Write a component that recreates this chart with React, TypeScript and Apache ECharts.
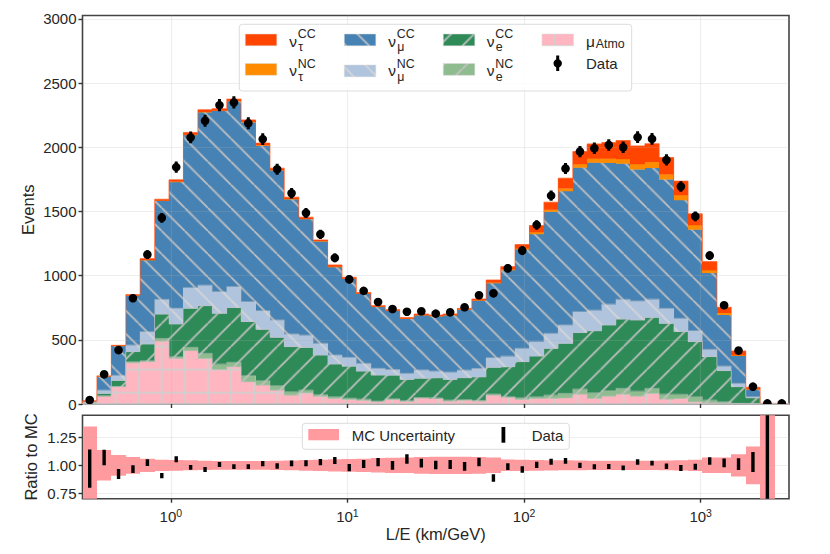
import { useEffect, useRef } from "react";
import * as echarts from "echarts";

// stack components per L/E bin
const muAtmo = [8, 62, 135, 322, 330, 491, 356, 416, 356, 270, 291, 174, 148, 109, 70, 88, 60, 44, 36, 29, 18, 36, 21, 47, 42, 23, 31, 23, 70, 52, 36, 44, 44, 49, 78, 44, 62, 78, 62, 83, 39, 44, 18, 10, 5, 1, 0, 0, 0];
const nueNC = [0, 2, 2, 8, 8, 20, 13, 26, 39, 42, 34, 47, 34, 34, 26, 21, 13, 13, 10, 10, 5, 5, 5, 3, 5, 8, 3, 5, 8, 5, 13, 13, 26, 34, 39, 44, 42, 44, 39, 39, 39, 31, 39, 21, 13, 4, 3, 0, 0];
const nueCC = [4, 19, 47, 78, 130, 190, 255, 304, 371, 395, 426, 421, 400, 377, 351, 332, 309, 255, 249, 218, 203, 184, 166, 151, 158, 161, 171, 184, 208, 234, 281, 317, 364, 390, 439, 483, 512, 540, 554, 553, 551, 489, 429, 338, 242, 130, 46, 1, 0];
const numuNC = [4, 26, 39, 52, 96, 114, 122, 161, 161, 169, 164, 156, 145, 135, 99, 96, 91, 70, 68, 60, 52, 44, 47, 65, 52, 57, 60, 65, 75, 83, 104, 112, 117, 143, 163, 161, 163, 154, 148, 143, 116, 104, 85, 57, 36, 26, 8, 0, 0];
const numuCC = [8, 109, 231, 387, 558, 770, 985, 1190, 1347, 1409, 1445, 1397, 1287, 1167, 1050, 905, 795, 686, 614, 543, 480, 458, 426, 427, 428, 444, 472, 531, 582, 670, 773, 840, 948, 1044, 1125, 1151, 1101, 1059, 1026, 1024, 1006, 922, 790, 597, 400, 216, 58, 3, 0];
const nutauNC = [0, 0, 0, 1, 2, 2, 3, 4, 4, 3, 3, 4, 4, 3, 3, 3, 2, 3, 2, 2, 2, 2, 2, 2, 2, 2, 2, 2, 5, 6, 8, 14, 18, 21, 26, 31, 34, 34, 41, 47, 39, 39, 34, 21, 16, 5, 2, 0, 0];
const nutauCC = [1, 1, 3, 4, 8, 8, 12, 14, 14, 12, 12, 14, 14, 12, 12, 10, 8, 12, 8, 6, 6, 6, 6, 6, 6, 6, 6, 8, 18, 20, 27, 50, 55, 78, 96, 112, 122, 143, 140, 138, 130, 107, 86, 65, 42, 31, 13, 1, 0];

const dataEvents = [31, 231, 420, 824, 1164, 1450, 1845, 2076, 2206, 2328, 2349, 2187, 2063, 1829, 1642, 1488, 1322, 1138, 971, 881, 795, 740, 719, 722, 704, 714, 753, 847, 862, 1057, 1195, 1395, 1623, 1834, 1966, 1992, 2018, 2000, 2078, 2065, 1901, 1694, 1462, 1156, 769, 416, 135, 5, 5];
const dataErr = [6, 15, 20, 29, 34, 38, 43, 46, 47, 48, 48, 47, 45, 43, 41, 39, 36, 34, 31, 30, 28, 27, 27, 27, 27, 27, 27, 29, 29, 33, 35, 37, 40, 43, 44, 45, 45, 45, 46, 45, 44, 41, 38, 34, 28, 20, 12, 2, 2];

const ratio = [0.97, 1.07, 0.922, 0.966, 1.024, 0.907, 1.054, 0.982, 0.962, 1.008, 0.988, 0.988, 1.015, 0.994, 1.017, 1.018, 1.028, 1.044, 0.979, 1.012, 1.029, 1.0, 1.057, 1.02, 1.003, 1.008, 0.991, 1.03, 0.886, 0.988, 0.962, 1.005, 1.033, 1.04, 1.0, 0.987, 0.99, 0.977, 1.03, 1.02, 0.992, 0.976, 0.988, 1.039, 1.022, 1.01, 1.03, 1.0];
const ratioErr = [0.172, 0.07, 0.045, 0.035, 0.03, 0.024, 0.027, 0.021, 0.022, 0.022, 0.021, 0.021, 0.024, 0.024, 0.026, 0.027, 0.028, 0.031, 0.033, 0.036, 0.037, 0.039, 0.042, 0.04, 0.039, 0.04, 0.039, 0.039, 0.033, 0.03, 0.029, 0.028, 0.027, 0.026, 0.024, 0.023, 0.022, 0.022, 0.024, 0.022, 0.025, 0.027, 0.027, 0.033, 0.04, 0.053, 0.09, 1.0];
const mcUncert = [0.35, 0.137, 0.093, 0.075, 0.06, 0.05, 0.048, 0.045, 0.042, 0.04, 0.04, 0.04, 0.04, 0.042, 0.044, 0.048, 0.05, 0.055, 0.058, 0.06, 0.065, 0.068, 0.07, 0.075, 0.078, 0.078, 0.078, 0.075, 0.07, 0.052, 0.05, 0.048, 0.046, 0.045, 0.044, 0.042, 0.042, 0.042, 0.042, 0.042, 0.044, 0.046, 0.05, 0.07, 0.07, 0.1, 0.17, 1.0];

const decades = [1, 10, 100, 1000];
const yTicks = [0, 500, 1000, 1500, 2000, 2500, 3000];
const ratioTicks = [0.75, 1, 1.25];

const LOG_MIN = -0.5;
const LOG_MAX = 3.5;
const N_BINS = 49;
const edge = (i: number) => Math.pow(10, LOG_MIN + (i * (LOG_MAX - LOG_MIN)) / N_BINS);
const center = (i: number) => Math.pow(10, LOG_MIN + ((i + 0.5) * (LOG_MAX - LOG_MIN)) / N_BINS);

const TEXT = "#262626";
const FONT = "Liberation Sans";
const HATCH = "#c2c2c2";
const GRID_LINE = "rgba(176,176,176,0.22)";
const TILE = 23.1;

// matplotlib-style hatch tile, userSpaceOnUse in svg so it runs on across bins
function hatch(bg: string, kind: "\\" | "/" | "+", x: number, y: number, col = HATCH) {
    const s = 4;
    const size = Math.round(TILE * s);
    const c = document.createElement("canvas");
    c.width = size;
    c.height = size;
    const g = c.getContext("2d")!;
    g.fillStyle = bg;
    g.fillRect(0, 0, size, size);
    g.strokeStyle = col;
    g.lineWidth = 1.7 * s;
    const seg = (a: number, b: number, d: number, e: number) => {
        g.beginPath();
        g.moveTo(a, b);
        g.lineTo(d, e);
        g.stroke();
    };
    if (kind === "\\") {
        for (const o of [-size, 0, size]) seg(o, 0, o + size, size);
    } else if (kind === "/") {
        for (const o of [-size, 0, size]) seg(o, size, o + size, 0);
    } else {
        for (const o of [0, size]) {
            seg(o, 0, o, size);
            seg(0, o, size, o);
        }
    }
    return { image: c, repeat: "repeat", imageWidth: TILE, imageHeight: TILE, x, y } as any;
}

function stackSeries(name: string, values: number[], below: number[], fill: any) {
    return {
        type: "custom",
        name,
        xAxisIndex: 0,
        yAxisIndex: 0,
        clip: true,
        z: 2,
        silent: true,
        data: values.map((v, i) => [edge(i), edge(i + 1), below[i], below[i] + v]),
        encode: { x: [0, 1], y: [2, 3] },
        renderItem: (_: any, api: any) => {
            const a = api.coord([api.value(0), api.value(3)]);
            const b = api.coord([api.value(1), api.value(2)]);
            const x0 = Math.round(a[0]);
            const x1 = Math.round(b[0]);
            return {
                type: "rect",
                shape: { x: x0, y: a[1], width: x1 - x0, height: b[1] - a[1] + 0.4 },
                style: { fill },
            };
        },
    };
}

// thin step outline on top of a layer
function stepLine(name: string, tops: number[], color: string, width: number, opacity: number) {
    return {
        type: "line",
        name,
        xAxisIndex: 0,
        yAxisIndex: 0,
        step: "end",
        z: 3,
        silent: true,
        showSymbol: false,
        lineStyle: { color, width, opacity },
        data: [[edge(0), 0], ...tops.map((t, i) => [edge(i), t]), [edge(N_BINS), 0]],
    };
}

export default function App() {
    const ref = useRef<HTMLDivElement | null>(null);

    useEffect(() => {
        if (!ref.current) return;
        const chart = echarts.init(ref.current, undefined, { renderer: "svg" });

        const fills = {
            atmo: hatch("#ffb6c1", "+", 11.4, 12.1, "#cfcfcf"),
            eNC: hatch("#8fbc8f", "/", 0.2, 0),
            eCC: hatch("#2e8b57", "/", 0.2, 0),
            muNC: hatch("#b0c4de", "\\", 22.1, 0, "#d6d6d6"),
            muCC: hatch("#4682b4", "\\", 22.1, 0),
        };

        const layers: [string, number[], any][] = [
            ["muAtmo", muAtmo, fills.atmo],
            ["nueNC", nueNC, fills.eNC],
            ["nueCC", nueCC, fills.eCC],
            ["numuNC", numuNC, fills.muNC],
            ["numuCC", numuCC, fills.muCC],
            ["nutauNC", nutauNC, "#ff8c00"],
            ["nutauCC", nutauCC, "#ff4500"],
        ];
        let running = muAtmo.map(() => 0);
        const stack: any[] = [];
        const edges: any[] = [];
        layers.forEach(([name, vals, fill], li) => {
            stack.push(stackSeries(name, vals, running, fill));
            running = running.map((r, i) => r + vals[i]);
            if (li < 4) edges.push(stepLine(name + " edge", running, "#c2c2c2", 0.7, 0.7));
        });
        const total = running;

        const xBase = {
            type: "log",
            logBase: 10,
            min: edge(0),
            max: edge(N_BINS),
            z: 5,
            splitLine: { show: true, lineStyle: { color: GRID_LINE, width: 1.2 } },
            minorTick: { show: false },
            minorSplitLine: { show: false },
        };
        const yBase = {
            type: "value",
            nameLocation: "middle",
            nameMoveOverlap: false,
            nameTextStyle: { color: TEXT, fontSize: 16.5, fontFamily: FONT },
            z: 5,
            axisLine: { show: false },
            splitLine: { show: true, lineStyle: { color: GRID_LINE, width: 1.2 } },
            axisTick: { show: true, length: 4, lineStyle: { color: "#333", width: 1.4 } },
        };

        const col = [245.3, 344.3, 443.3, 542];
        const nuX = [289.3, 388.3, 486.7];
        const rowY = [40, 69.5];
        const lt = (x: number, y: number, text: string, size: number) => ({
            type: "text",
            z: 21,
            x,
            y,
            style: { text, fill: TEXT, fontFamily: FONT, fontSize: size, textVerticalAlign: "middle", textBaseline: "middle" },
        });
        const nuLabel = (x: number, y: number, sup: string, sub: string) => [
            lt(x, y + 1, "ν", 15.5),
            lt(x + 8.5, y - 5.6, sup, 12.4),
            lt(x + 9, y + 7, sub, 12.4),
        ];
        const swatch = (x: number, y: number, fill: any) => ({
            type: "rect",
            z: 21,
            shape: { x, y: y - 6, width: 31.5, height: 11.8 },
            style: { fill, stroke: "#d8d8d8", lineWidth: 0.5 },
        });

        const option: any = {
            animation: false,
            backgroundColor: "#ffffff",
            textStyle: { fontFamily: FONT },
            grid: [
                { left: 82.5, right: 41, top: 15.5, height: 388.5, show: true, borderColor: "#444", borderWidth: 1.6, backgroundColor: "transparent" },
                { left: 82.5, right: 41, top: 415.3, height: 83.4, show: true, borderColor: "#444", borderWidth: 1.6, backgroundColor: "transparent" },
            ],
            xAxis: [
                {
                    ...xBase,
                    gridIndex: 0,
                    axisLine: { show: true, lineStyle: { color: "#bdbdbd", width: 1.6 } },
                    axisTick: { show: true, length: 4, customValues: decades, lineStyle: { color: "#333", width: 1.4 } },
                    axisLabel: { show: false },
                },
                {
                    ...xBase,
                    gridIndex: 1,
                    name: "L/E (km/GeV)",
                    nameLocation: "middle",
                    nameGap: 26,
                    nameTextStyle: { color: TEXT, fontSize: 16.5, fontFamily: FONT },
                    axisLine: { show: false },
                    axisTick: { show: true, length: 4, customValues: decades, lineStyle: { color: "#333", width: 1.4 } },
                    axisLabel: {
                        show: true,
                        customValues: decades,
                        margin: 9,
                        formatter: (v: number) => `{b|10}{s|${Math.round(Math.log10(v))}}`,
                        rich: {
                            b: { fontSize: 15, color: TEXT, fontFamily: FONT, verticalAlign: "bottom", lineHeight: 16 },
                            s: { fontSize: 10.5, color: TEXT, fontFamily: FONT, verticalAlign: "top", lineHeight: 10, padding: [0, 0, 6, 0] },
                        },
                    },
                },
            ],
            yAxis: [
                {
                    ...yBase,
                    gridIndex: 0,
                    name: "Events",
                    nameGap: 46,
                    min: 0,
                    max: 3026,
                    axisTick: { ...yBase.axisTick, customValues: yTicks },
                    axisLabel: { customValues: yTicks, color: TEXT, fontSize: 15, fontFamily: FONT, margin: 6, formatter: (v: number) => String(v) },
                },
                {
                    ...yBase,
                    gridIndex: 1,
                    name: "Ratio to MC",
                    nameGap: 43,
                    min: 0.7,
                    max: 1.45,
                    axisTick: { ...yBase.axisTick, customValues: ratioTicks },
                    axisLabel: {
                        customValues: ratioTicks,
                        color: TEXT,
                        fontSize: 15,
                        fontFamily: FONT,
                        margin: 6,
                        formatter: (v: number) => v.toFixed(2),
                    },
                },
            ],
            series: [
                ...stack,
                ...edges,
                stepLine("outline", total, "#ff5a1f", 1, 0.75),
                {
                    // error bar and round marker, clipped at the axis like the points near zero
                    type: "custom",
                    name: "Data",
                    xAxisIndex: 0,
                    yAxisIndex: 0,
                    clip: true,
                    z: 6,
                    silent: true,
                    data: dataEvents.map((d, i) => [center(i), d - dataErr[i], d + dataErr[i], d]),
                    encode: { x: 0, y: [1, 2] },
                    renderItem: (_: any, api: any) => {
                        const a = api.coord([api.value(0), api.value(1)]);
                        const b = api.coord([api.value(0), api.value(2)]);
                        const c = api.coord([api.value(0), api.value(3)]);
                        return {
                            type: "group",
                            children: [
                                {
                                    type: "line",
                                    shape: { x1: a[0], y1: a[1], x2: b[0], y2: b[1] },
                                    style: { stroke: "#000", lineWidth: 3 },
                                },
                                {
                                    type: "circle",
                                    shape: { cx: c[0], cy: c[1], r: 4.3 },
                                    style: { fill: "#000" },
                                },
                            ],
                        };
                    },
                },
                {
                    type: "custom",
                    name: "MC Uncertainty",
                    xAxisIndex: 1,
                    yAxisIndex: 1,
                    clip: true,
                    z: 2,
                    silent: true,
                    data: mcUncert.map((u, i) => [edge(i), edge(i + 1), 1 - u, 1 + u]),
                    encode: { x: [0, 1], y: [2, 3] },
                    renderItem: (_: any, api: any) => {
                        const a = api.coord([api.value(0), api.value(3)]);
                        const b = api.coord([api.value(1), api.value(2)]);
                        const x0 = Math.round(a[0]);
                        const x1 = Math.round(b[0]);
                        return {
                            type: "rect",
                            shape: { x: x0, y: a[1], width: x1 - x0, height: b[1] - a[1] },
                            style: { fill: "#ff9a9e" },
                        };
                    },
                },
                {
                    type: "custom",
                    name: "Ratio",
                    xAxisIndex: 1,
                    yAxisIndex: 1,
                    clip: true,
                    z: 6,
                    silent: true,
                    data: ratio.map((r, i) => [center(i), r - ratioErr[i], r + ratioErr[i]]),
                    encode: { x: 0, y: [1, 2] },
                    renderItem: (_: any, api: any) => {
                        const a = api.coord([api.value(0), api.value(1)]);
                        const b = api.coord([api.value(0), api.value(2)]);
                        return {
                            type: "line",
                            shape: { x1: a[0], y1: a[1], x2: b[0], y2: b[1] },
                            style: { stroke: "#000", lineWidth: 3.4 },
                        };
                    },
                },
            ],
            graphic: [
                // main legend
                {
                    type: "rect",
                    z: 20,
                    shape: { x: 239.3, y: 24.3, width: 392.4, height: 66.7, r: 3 },
                    style: { fill: "rgba(255,255,255,0.8)", stroke: "#dcdcdc", lineWidth: 1 },
                },
                swatch(col[0], rowY[0], "#ff4500"),
                swatch(col[0], rowY[1], "#ff8c00"),
                swatch(col[1], rowY[0], fills.muCC),
                swatch(col[1], rowY[1] + 1.5, fills.muNC),
                swatch(col[2], rowY[0], fills.eCC),
                swatch(col[2], rowY[1], fills.eNC),
                swatch(col[3], rowY[0], fills.atmo),
                ...nuLabel(nuX[0], rowY[0], "CC", "τ"),
                ...nuLabel(nuX[0], rowY[1], "NC", "τ"),
                ...nuLabel(nuX[1], rowY[0], "CC", "μ"),
                ...nuLabel(nuX[1], rowY[1], "NC", "μ"),
                ...nuLabel(nuX[2], rowY[0], "CC", "e"),
                ...nuLabel(nuX[2], rowY[1], "NC", "e"),
                lt(586, 41, "μ", 15.5),
                lt(595.7, 43.5, "Atmo", 12.4),
                lt(586, 63, "Data", 15),
                {
                    type: "rect",
                    z: 21,
                    shape: { x: 556.2, y: 55.5, width: 3, height: 15.5 },
                    style: { fill: "#000" },
                },
                {
                    type: "circle",
                    z: 21,
                    shape: { cx: 557.7, cy: 63.3, r: 4.2 },
                    style: { fill: "#000" },
                },
                // ratio legend
                {
                    type: "rect",
                    z: 20,
                    shape: { x: 302.3, y: 423.3, width: 267, height: 26, r: 3 },
                    style: { fill: "rgba(255,255,255,0.8)", stroke: "#dcdcdc", lineWidth: 1 },
                },
                {
                    type: "rect",
                    z: 21,
                    shape: { x: 308.3, y: 429, width: 30.7, height: 11.3 },
                    style: { fill: "#ff9a9e" },
                },
                lt(351.7, 435.5, "MC Uncertainty", 15),
                {
                    type: "rect",
                    z: 21,
                    shape: { x: 501.5, y: 427, width: 3.8, height: 15.7 },
                    style: { fill: "#000" },
                },
                lt(531.7, 435.5, "Data", 15),
            ],
        };

        chart.setOption(option);
        return () => chart.dispose();
    }, []);

    return <div ref={ref} style={{ position: "absolute", left: 0, top: 0, width: 830, height: 554 }} />;
}
